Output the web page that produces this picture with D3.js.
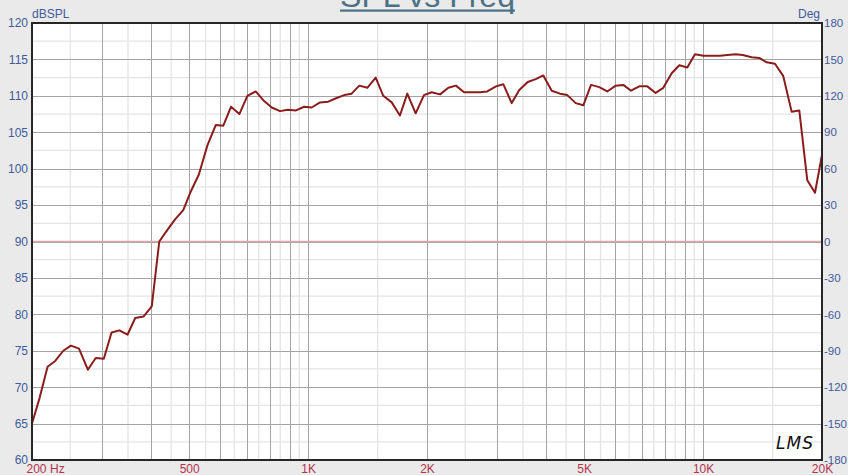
<!DOCTYPE html>
<html>
<head>
<meta charset="utf-8">
<script src="https://cdn.jsdelivr.net/npm/d3@7"></script>
<style>
  body { margin: 0; background: #eaeaea; }
  svg { display: block; font-family: "Liberation Sans", Arial, sans-serif; }
</style>
</head>
<body>
<svg width="848" height="475"></svg>
<script>
// Data
const freqs = [200, 209, 219, 229, 240, 251, 263, 277, 290, 304, 318, 333, 349, 365, 383, 402, 420, 439, 460, 483,
  505, 529, 556, 584, 610, 638, 670, 702, 737, 770, 809, 849, 888, 932, 977, 1021, 1072, 1125, 1181, 1235,
  1289, 1348, 1412, 1483, 1550, 1628, 1708, 1783, 1872, 1965, 2056, 2158, 2265, 2368, 2482, 2605, 2724, 2842, 2990, 3120,
  3277, 3425, 3598, 3769, 3940, 4138, 4342, 4531, 4759, 4974, 5203, 5460, 5721, 6008, 6280, 6569, 6894, 7223, 7585, 7929,
  8327, 8705, 9120, 9539, 10012, 10515, 11036, 11516, 12095, 12598, 13277, 13879, 14489, 15206, 15960, 16761, 17520, 18357, 19200, 20000];

const spl = [65.0, 68.5, 72.8, 73.6, 75.0, 75.7, 75.3, 72.4, 74.0, 73.9, 77.5, 77.8, 77.2, 79.5, 79.7, 81.1, 90.0, 91.5, 93.0, 94.3,
  96.9, 99.2, 103.2, 106.0, 105.9, 108.5, 107.5, 110.0, 110.6, 109.4, 108.4, 107.9, 108.1, 108.0, 108.5, 108.4, 109.1, 109.2, 109.7, 110.1,
  110.3, 111.4, 111.1, 112.5, 110.0, 109.1, 107.3, 110.3, 107.6, 110.1, 110.5, 110.2, 111.1, 111.4, 110.5, 110.5, 110.5, 110.6, 111.3, 111.6,
  109.0, 110.8, 111.9, 112.3, 112.8, 110.7, 110.3, 110.1, 109.0, 108.7, 111.5, 111.2, 110.6, 111.4, 111.5, 110.7, 111.3, 111.3, 110.4, 111.1,
  113.1, 114.2, 113.9, 115.7, 115.5, 115.5, 115.5, 115.6, 115.7, 115.6, 115.3, 115.2, 114.6, 114.4, 112.7, 107.8, 108.0, 98.4, 96.7, 101.9];

const splTicks = [60, 65, 70, 75, 80, 85, 90, 95, 100, 105, 110, 115, 120];
const degTicks = [-180, -150, -120, -90, -60, -30, 0, 30, 60, 90, 120, 150, 180];
const freqTicks = [200, 500, 1000, 2000, 5000, 10000, 20000];
const freqTickLabels = ["200", "500", "1K", "2K", "5K", "10K", "20K"];
const majorFreqGrid = [300, 400, 500, 600, 700, 800, 900, 1000, 2000, 3000, 4000, 5000, 6000, 7000, 8000, 9000, 10000];
const minorFreqGrid = [250, 350, 450, 550, 650, 750, 850, 950, 1500, 2500, 3500, 4500, 5500, 6500, 7500, 8500, 9500, 15000];
const refLevel = 90;

const svg = d3.select("svg"),
  width = +svg.attr("width"),
  height = +svg.attr("height");

const margin = { top: 23, right: 26, bottom: 15, left: 32 };
const x0 = margin.left, x1 = width - margin.right,
  y0 = margin.top, y1 = height - margin.bottom;

// Scales
const x = d3.scaleLog().domain([200, 20000]).range([x0, x1]);
const y = d3.scaleLinear().domain([60, 120]).range([y1, y0]);
const yDeg = d3.scaleLinear().domain([-180, 180]).range([y1, y0]);

// Title (cut off at the top like the original)
const title = svg.append("text")
  .attr("x", 427.5)
  .attr("y", 7)
  .attr("text-anchor", "middle")
  .attr("font-size", 32)
  .attr("fill", "#4b7187")
  .text("SPL vs Freq");
const tb = title.node().getBBox();
svg.append("rect")
  .attr("x", tb.x).attr("y", 9.5)
  .attr("width", tb.width).attr("height", 2.2)
  .attr("fill", "#4b7187");

// Plot background
svg.append("rect")
  .attr("x", x0).attr("y", y0)
  .attr("width", x1 - x0).attr("height", y1 - y0)
  .attr("fill", "#fff");

const grid = svg.append("g");

// minor horizontal grid
grid.selectAll(".hminor")
  .data(splTicks.slice(0, -1).map(d => d + 2.5))
  .join("line")
  .attr("x1", x0).attr("x2", x1)
  .attr("y1", d => y(d)).attr("y2", d => y(d))
  .attr("stroke", "#e4e4e4").attr("stroke-width", 1.3);

// minor vertical grid
grid.selectAll(".vminor")
  .data(minorFreqGrid)
  .join("line")
  .attr("x1", d => x(d)).attr("x2", d => x(d))
  .attr("y1", y0).attr("y2", y1)
  .attr("stroke", "#e4e4e4").attr("stroke-width", 1.3);

// major horizontal grid
grid.selectAll(".hmajor")
  .data(splTicks.slice(1, -1))
  .join("line")
  .attr("x1", x0).attr("x2", x1)
  .attr("y1", d => Math.round(y(d)) + 0.5).attr("y2", d => Math.round(y(d)) + 0.5)
  .attr("stroke", "#a4a4a4").attr("stroke-width", 1);

// major vertical grid
grid.selectAll(".vmajor")
  .data(majorFreqGrid)
  .join("line")
  .attr("x1", d => Math.round(x(d)) + 0.5).attr("x2", d => Math.round(x(d)) + 0.5)
  .attr("y1", y0).attr("y2", y1)
  .attr("stroke", "#a4a4a4").attr("stroke-width", 1);

// reference line at 90 dB
svg.append("line")
  .attr("x1", x0).attr("x2", x1)
  .attr("y1", y(refLevel)).attr("y2", y(refLevel))
  .attr("stroke", "#dfa7a7").attr("stroke-width", 1.6);

// SPL curve
const line = d3.line()
  .x((d, i) => x(freqs[i]))
  .y(d => y(d));

svg.append("path")
  .datum(spl)
  .attr("fill", "none")
  .attr("stroke", "#8b1c1c")
  .attr("stroke-width", 2)
  .attr("stroke-linejoin", "round")
  .attr("d", line);

// frame
svg.append("rect")
  .attr("x", x0).attr("y", y0)
  .attr("width", x1 - x0).attr("height", y1 - y0)
  .attr("fill", "none")
  .attr("stroke", "#262626").attr("stroke-width", 2);

// Left axis
const leftAxis = svg.append("g")
  .attr("transform", `translate(${x0},0)`)
  .call(d3.axisLeft(y).tickValues(splTicks).tickSize(0).tickPadding(4));
leftAxis.select(".domain").remove();
leftAxis.selectAll("text")
  .attr("fill", "#3f5b9b").attr("font-size", 12)
  .attr("font-family", "Liberation Sans, Arial, sans-serif");

// Right axis (plain hyphen for negatives)
const rightAxis = svg.append("g")
  .attr("transform", `translate(${x1},0)`)
  .call(d3.axisRight(yDeg).tickValues(degTicks).tickSize(0).tickPadding(2)
    .tickFormat(d => String(d)));
rightAxis.select(".domain").remove();
rightAxis.selectAll("text")
  .attr("fill", "#3f5b9b").attr("font-size", 11.5)
  .attr("font-family", "Liberation Sans, Arial, sans-serif");

// Bottom axis
const bottomAxis = svg.append("g")
  .attr("transform", `translate(0,${y1})`)
  .call(d3.axisBottom(x).tickValues(freqTicks).tickSize(0).tickPadding(4)
    .tickFormat((d, i) => freqTickLabels[i]));
bottomAxis.select(".domain").remove();
bottomAxis.selectAll("text")
  .attr("fill", "#b3344e").attr("font-size", 12)
  .attr("font-family", "Liberation Sans, Arial, sans-serif");
bottomAxis.selectAll(".tick text")
  .filter(d => d === 200)
  .attr("text-anchor", "start")
  .attr("dx", -6);

svg.append("text")
  .attr("x", 50).attr("y", y1 + 12.5)
  .attr("fill", "#b3344e").attr("font-size", 12)
  .text("Hz");

// Axis unit labels
svg.append("text")
  .attr("x", x0).attr("y", 18)
  .attr("fill", "#3f5b9b").attr("font-size", 12)
  .text("dBSPL");
svg.append("text")
  .attr("x", x1 - 2).attr("y", 18)
  .attr("text-anchor", "end")
  .attr("fill", "#3f5b9b").attr("font-size", 12)
  .text("Deg");

// LMS mark
svg.append("text")
  .attr("x", 776).attr("y", 449)
  .attr("font-family", "DejaVu Sans, sans-serif")
  .attr("font-style", "italic")
  .attr("font-size", 17)
  .attr("letter-spacing", 1)
  .attr("fill", "#111")
  .text("LMS");
</script>
</body>
</html>
